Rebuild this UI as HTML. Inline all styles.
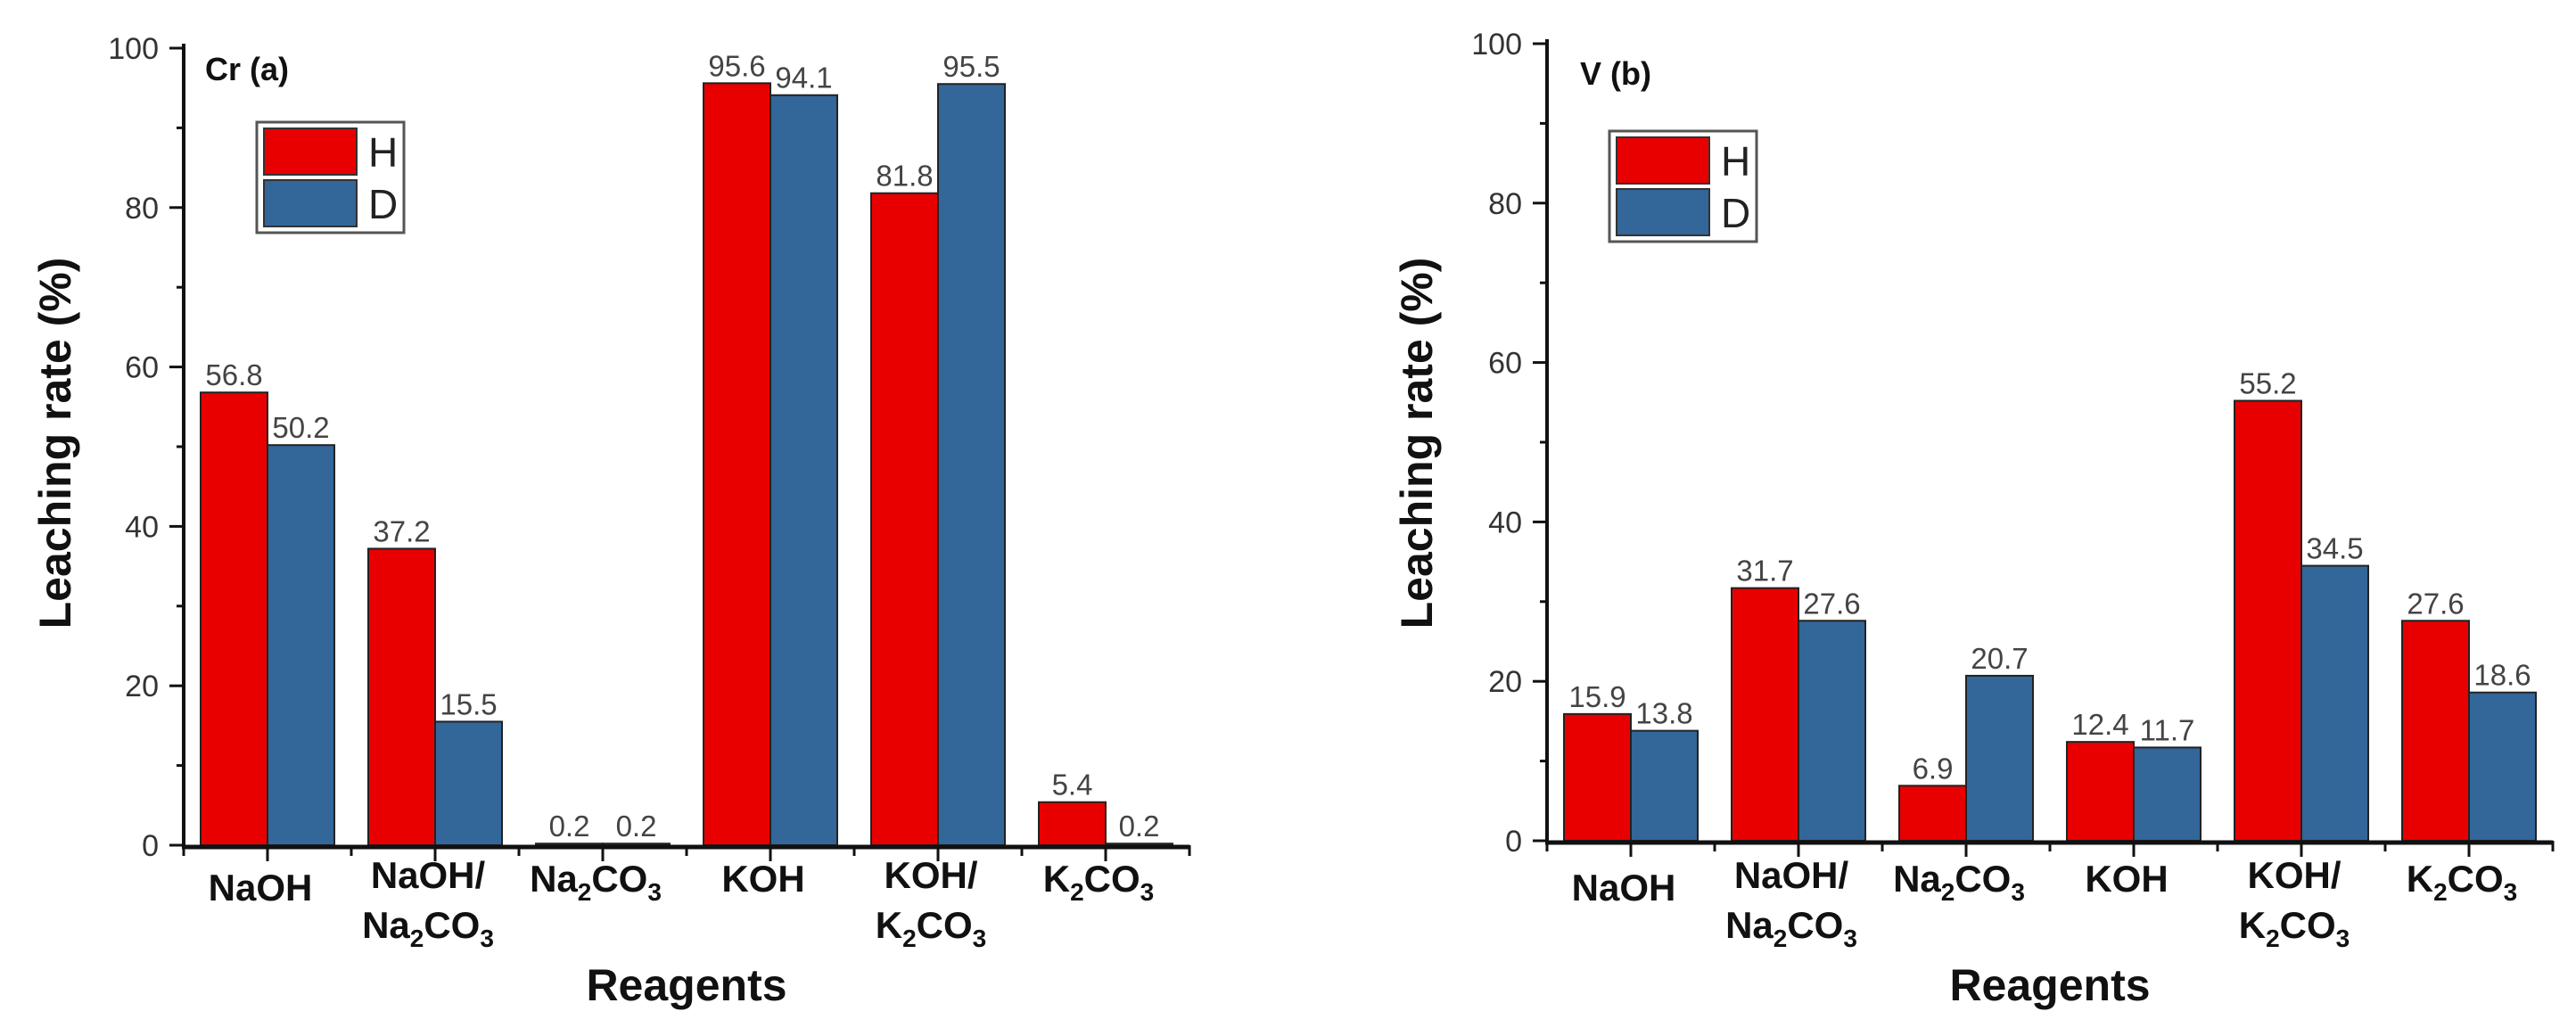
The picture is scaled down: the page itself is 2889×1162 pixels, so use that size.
<!DOCTYPE html>
<html><head><meta charset="utf-8"><style>
html,body{margin:0;padding:0;background:#fff;}
svg{display:block;font-family:"Liberation Sans",sans-serif;}
</style></head><body>
<svg id="fig" width="2889" height="1162" viewBox="0 0 2889 1162"></svg>
<script>
const categories = ["NaOH","NaOH/Na2CO3","Na2CO3","KOH","KOH/K2CO3","K2CO3"];
const crH = [56.8, 37.2, 0.2, 95.6, 81.8, 5.4];
const crD = [50.2, 15.5, 0.2, 94.1, 95.5, 0.2];
const vH = [15.9, 31.7, 6.9, 12.4, 55.2, 27.6];
const vD = [13.8, 27.6, 20.7, 11.7, 34.5, 18.6];
const yTicks = [0, 20, 40, 60, 80, 100];
const seriesNames = ["H", "D"];

const NS = "http://www.w3.org/2000/svg";
const svg = document.getElementById("fig");
const RED = "#e80000", BLUE = "#336699";
function mk(tag, attrs, parent){
  const e = document.createElementNS(NS, tag);
  for (const k in attrs) e.setAttribute(k, attrs[k]);
  (parent||svg).appendChild(e);
  return e;
}
function catLabel(g, name, x, y){
  // name like NaOH/Na2CO3 -> two lines when slash present
  const parts = name.includes("/") ? [name.split("/")[0] + "/", name.split("/")[1]] : [name];
  const ys = parts.length === 2 ? [y - 4, y + 52] : (name === "NaOH" ? [y + 10] : [y]);
  parts.forEach((p, i) => {
    const t = mk("text", {x: x, y: ys[i], "text-anchor": "middle", "font-size": 42, "font-weight": "bold", fill: "#111"}, g);
    const re = /(\d)/g;
    let last = 0, m;
    const segs = [];
    while ((m = re.exec(p)) !== null) { segs.push([p.slice(last, m.index), false]); segs.push([m[1], true]); last = m.index + 1; }
    segs.push([p.slice(last), false]);
    let shifted = false;
    segs.forEach(([s, sub]) => {
      if (!s) return;
      const ts = mk("tspan", {}, t);
      if (sub) { ts.setAttribute("font-size", 28); ts.setAttribute("dy", 10); shifted = true; }
      else if (shifted) { ts.setAttribute("dy", -10); shifted = false; }
      ts.textContent = s;
    });
  });
}

function drawChart(opt){
  const g = mk("g", {});
  
  
  const ax = opt.axisX, y0 = opt.y0, ppu = opt.ppu, gw = 188, bw = 75;
  const yS = v => y0 - v * ppu;
  const xC = i => ax + gw * (i + 0.5);
  // bars
  const series = [opt.h, opt.d];
  const cols = [RED, BLUE];
  categories.forEach((c, i) => {
    series.forEach((arr, s) => {
      const v = arr[i];
      const x = s === 0 ? xC(i) - bw : xC(i);
      const r = mk("rect", {x: x, y: yS(v), width: bw, height: Math.max(0, y0 - yS(v)), fill: cols[s], stroke: "#222", "stroke-width": 2}, g);
      
      
      const t = mk("text", {x: x + bw / 2, y: yS(v) - 8, "text-anchor": "middle", "font-size": 33, fill: "#444"}, g);
      
      
      t.textContent = v.toFixed(1);
    });
  });
  // y axis
  const yl = mk("line", {x1: ax, y1: yS(100) - 5, x2: ax, y2: y0 + 2, stroke: "#111", "stroke-width": 4}, g);
  
  
  for (let v = 0; v <= 100; v += 10) {
    const major = v % 20 === 0;
    mk("line", {x1: ax - (major ? 16 : 8), y1: yS(v), x2: ax, y2: yS(v), stroke: "#111", "stroke-width": 3}, g);
  }
  yTicks.forEach(v => {
    const t = mk("text", {x: ax - 28, y: yS(v) + 12, "text-anchor": "end", "font-size": 34, fill: "#333"}, g);
    
    
    t.textContent = v;
  });
  // x axis
  const xe = ax + gw * categories.length;
  const xl = mk("line", {x1: ax - 2, y1: y0 + 2, x2: xe, y2: y0 + 2, stroke: "#111", "stroke-width": 5}, g);
  
  
  for (let i = 0; i <= categories.length; i++) mk("line", {x1: ax + gw * i, y1: y0, x2: ax + gw * i, y2: y0 + 12, stroke: "#111", "stroke-width": 3}, g);
  categories.forEach((c, i) => {
    mk("line", {x1: xC(i), y1: y0, x2: xC(i), y2: y0 + 18, stroke: "#111", "stroke-width": 3}, g);
    const lg = mk("g", {}, g);
    
    
    catLabel(lg, c, xC(i) - 8, 1000);
  });
  // axis titles
  const xt = mk("text", {x: ax + 3 * gw, y: 1122, "text-anchor": "middle", "font-size": 50, "font-weight": "bold", fill: "#111"}, g);
  
  
  xt.textContent = "Reagents";
  const cy = 497, cx = opt.titleX;
  const yt = mk("text", {x: cx, y: cy, "text-anchor": "middle", "font-size": 50, "font-weight": "bold", fill: "#111", transform: `rotate(-90 ${cx} ${cy}) translate(0 17)`}, g);
  
  
  yt.textContent = "Leaching rate (%)";
  // panel label
  const pl = mk("text", {x: opt.panelX, y: opt.panelY, "font-size": 36, "font-weight": "bold", fill: "#111"}, g);
  
  
  pl.textContent = opt.panel;
  // legend
  const L = opt.legend;
  const lgd = mk("g", {}, g);
  
  
  mk("rect", {x: L.x, y: L.y, width: 165, height: 124, fill: "#fff", stroke: "#555", "stroke-width": 3}, lgd);
  seriesNames.forEach((n, s) => {
    const e = mk("g", {}, lgd);
    
    
    mk("rect", {x: L.x + 8, y: L.y + 7 + s * 58, width: 104, height: 52, fill: cols[s], stroke: "#333", "stroke-width": 2}, e);
    const t = mk("text", {x: L.x + 125, y: L.y + 50 + s * 58, "font-size": 46, fill: "#222"}, e);
    t.textContent = n;
  });
}

drawChart({name: "chart-cr", axisX: 206, y0: 948, ppu: 8.94, h: crH, d: crD, titleX: 62, panel: "Cr (a)", panelX: 230, panelY: 90, legend: {x: 288, y: 137}});
drawChart({name: "chart-v", axisX: 1735, y0: 943, ppu: 8.94, h: vH, d: vD, titleX: 1589, panel: "V (b)", panelX: 1772, panelY: 95, legend: {x: 1805, y: 147}});
</script>
</body></html>
